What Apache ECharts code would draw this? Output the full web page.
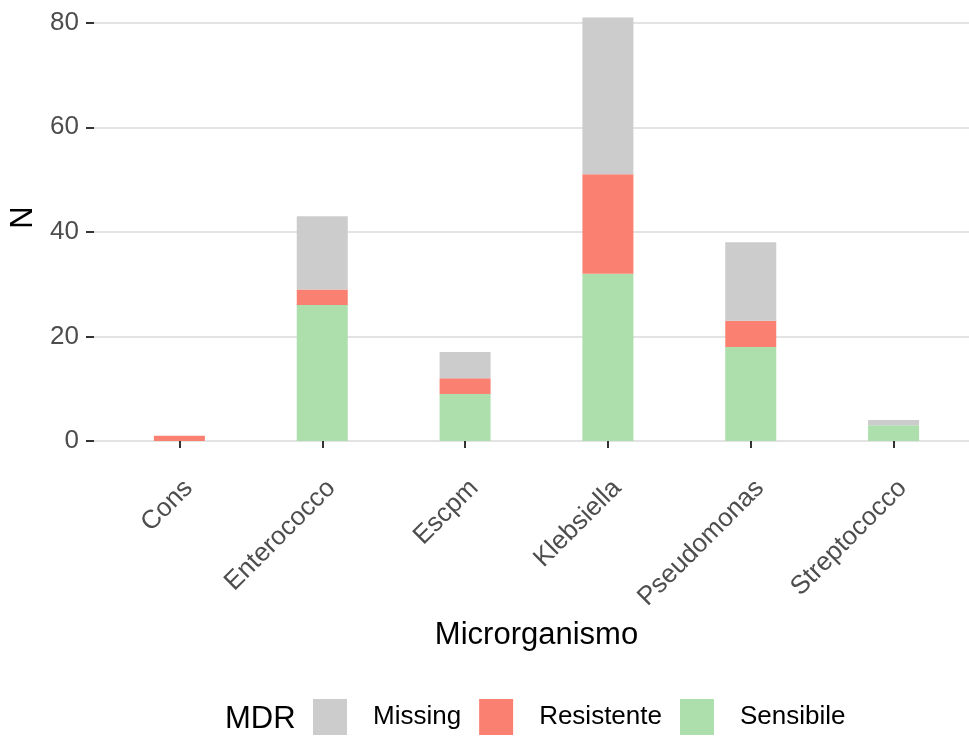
<!DOCTYPE html>
<html>
<head>
<meta charset="utf-8">
<script src="https://cdn.jsdelivr.net/npm/echarts@6/dist/echarts.min.js"></script>
<style>html,body{margin:0;padding:0;background:#fff}#c{width:969px;height:736px}</style>
</head>
<body>
<div id="c"></div>
<script>
const categories = ['Cons', 'Enterococco', 'Escpm', 'Klebsiella', 'Pseudomonas', 'Streptococco'];
const sensibile = [0, 26, 9, 32, 18, 3];
const resistente = [1, 3, 3, 19, 5, 0];
const missing = [0, 14, 5, 30, 15, 1];
const yTicks = [0, 20, 40, 60, 80];

const FONT = '"Liberation Sans", Arial, Helvetica, sans-serif';
const colors = { Missing: '#cccccc', Resistente: '#fa8072', Sensibile: '#addfad' };

const chart = echarts.init(document.getElementById('c'), null, { renderer: 'canvas' });
const yMax = 85.5;
const option = {
  animation: false,
  backgroundColor: '#ffffff',
  textStyle: { fontFamily: FONT },
  grid: [
    { left: 94, right: 0, top: -6, height: 447, containLabel: false, outerBoundsMode: 'none' },
    { left: 108, width: 857, top: -6, height: 447, containLabel: false, outerBoundsMode: 'none' }
  ],
  xAxis: [
    { gridIndex: 0, type: 'value', show: false, min: 0, max: 1 },
    {
      gridIndex: 1, type: 'category', data: categories, offset: 21,
      axisLine: { show: false },
      axisTick: { show: true, alignWithLabel: true, length: 7, lineStyle: { color: '#333333', width: 2 } },
      axisLabel: { rotate: 45, margin: 13, fontSize: 26, color: '#4d4d4d', fontFamily: FONT, interval: 0,
        align: 'right', verticalAlign: 'top' },
      name: 'Microrganismo', nameLocation: 'middle', nameGap: 158,
      nameTextStyle: { fontSize: 31, color: '#000000', fontFamily: FONT }
    }
  ],
  yAxis: [
    {
      gridIndex: 0, type: 'value', min: 0, max: yMax, interval: 20,
      axisLine: { show: false },
      axisTick: { show: true, length: 8, lineStyle: { color: '#333333', width: 2 } },
      axisLabel: { fontSize: 26, color: '#4d4d4d', margin: 15, showMaxLabel: false, fontFamily: FONT,
        formatter: v => yTicks.includes(v) ? String(v) : '' },
      splitLine: { show: true, lineStyle: { color: '#dadada', width: 1.6 } },
      name: 'N', nameLocation: 'middle', nameGap: 48, nameRotate: 90,
      nameTextStyle: { fontSize: 31, color: '#000000', fontFamily: FONT }
    },
    { gridIndex: 1, type: 'value', min: 0, max: yMax, show: false }
  ],
  legend: {
    data: ['Missing', 'Resistente', 'Sensibile'],
    left: 308, top: 694,
    itemWidth: 34, itemHeight: 36, itemGap: 18,
    icon: 'rect',
    textStyle: { fontSize: 26, color: '#000000', fontFamily: FONT, padding: [0, 0, 0, 21] },
    selectedMode: false
  },
  graphic: [
    { type: 'text', left: 225, top: 704, style: { text: 'MDR', fontSize: 31, fill: '#000000', fontFamily: FONT } }
  ],
  series: [
    { name: 'Sensibile', type: 'bar', stack: 's', xAxisIndex: 1, yAxisIndex: 1, data: sensibile, barWidth: 51, itemStyle: { color: colors.Sensibile } },
    { name: 'Resistente', type: 'bar', stack: 's', xAxisIndex: 1, yAxisIndex: 1, data: resistente, barWidth: 51, itemStyle: { color: colors.Resistente } },
    { name: 'Missing', type: 'bar', stack: 's', xAxisIndex: 1, yAxisIndex: 1, data: missing, barWidth: 51, itemStyle: { color: colors.Missing } }
  ]
};
chart.setOption(option);
</script>
</body>
</html>
